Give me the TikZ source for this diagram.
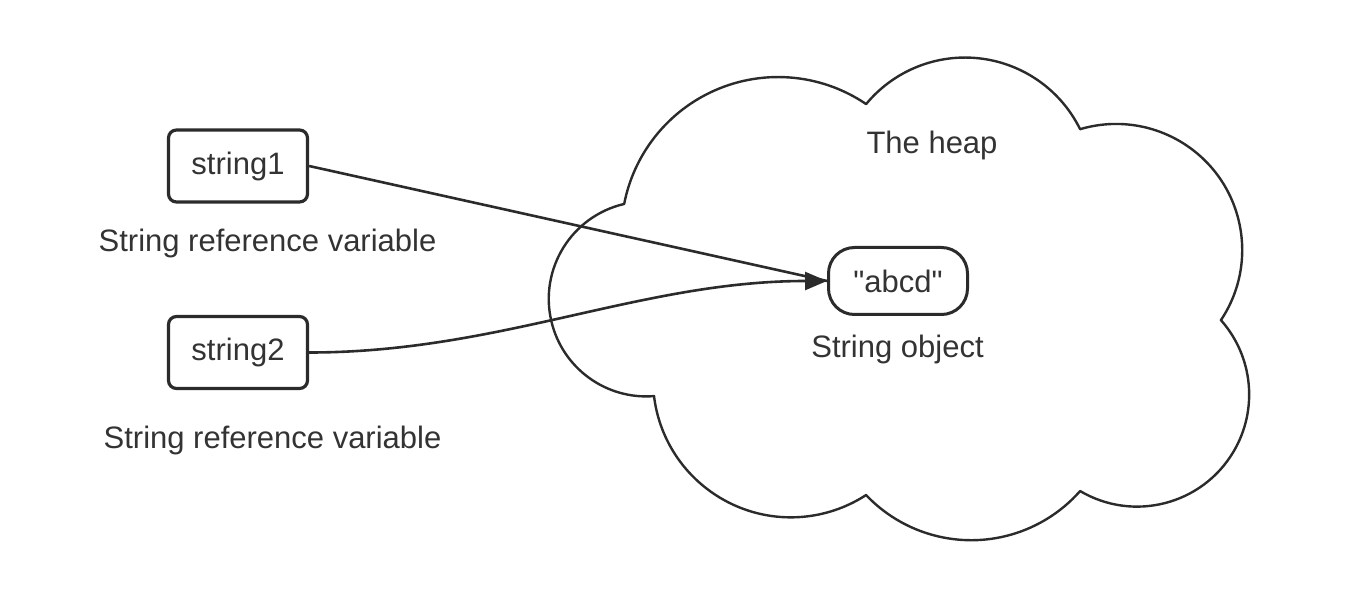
\documentclass[tikz,border=0pt]{standalone}
\usepackage{fontspec}
\setmainfont{Liberation Sans}
% same face without TeX ligature mapping, so that " stays a straight quote
\newfontfamily\straightquotes{Liberation Sans}
\usetikzlibrary{arrows.meta}
\definecolor{ink}{HTML}{2B2B2B}
\definecolor{txt}{HTML}{333333}
\begin{document}
\begin{tikzpicture}[x=0.5pt,y=0.5pt,
  every node/.style={font=\fontsize{15.5}{18}\selectfont, text=txt},
  varbox/.style={draw=ink, line width=1.6pt, rounded corners=4pt,
    minimum width=69.5pt, minimum height=36pt, inner sep=0pt},
  objbox/.style={draw=ink, line width=1.5pt, rounded corners=13pt,
    minimum width=69.5pt, minimum height=33.5pt, inner sep=0pt},
  caption/.style={inner sep=0pt},
  link/.style={draw=ink, line width=1.3pt},
  cloudline/.style={draw=ink, line width=1.2pt, line join=round}]
\useasboundingbox (0,0) rectangle (1348,-614);

% the heap, drawn as a cloud of seven circular lobes
\draw[cloudline] (624,-204)
  arc[start angle=103.2, end angle=274.6, radius=97.5] -- (654,-396)
  arc[start angle=186.9, end angle=303.1, radius=137.9] -- (866,-495)
  arc[start angle=223.5, end angle=318.6, radius=145.1] -- (1080,-491)
  arc[start angle=239.4, end angle=401.6, radius=112.1] -- (1221,-320)
  arc[start angle=326.3, end angle=466.6, radius=126.1] -- (1080,-129)
  arc[start angle=26.3, end angle=140.4, radius=128.3] -- (866,-104)
  arc[start angle=55.9, end angle=169.0, radius=156.8] -- cycle;
\node[caption] (heap) at (932,-145) {The heap};

% reference variables
\node[varbox] (s1) at (238,-166) {string1};
\node[caption] (c1) at (267.5,-243) {String reference variable};
\node[varbox] (s2) at (238,-352.5) {string2};
\node[caption] (c2) at (272.5,-440) {String reference variable};

% the string object
\node[objbox] (obj) at (898,-281) {\straightquotes "abcd"};
\node[caption] (oc) at (897.5,-349) {String object};

% references
\draw[link] (s1.east) -- (obj.west);
\draw[link, -{Triangle[length=11pt,width=9pt]}] (s2.east)
  .. controls (500,-352.5) and (640,-281) .. (obj.west);
\end{tikzpicture}
\end{document}
